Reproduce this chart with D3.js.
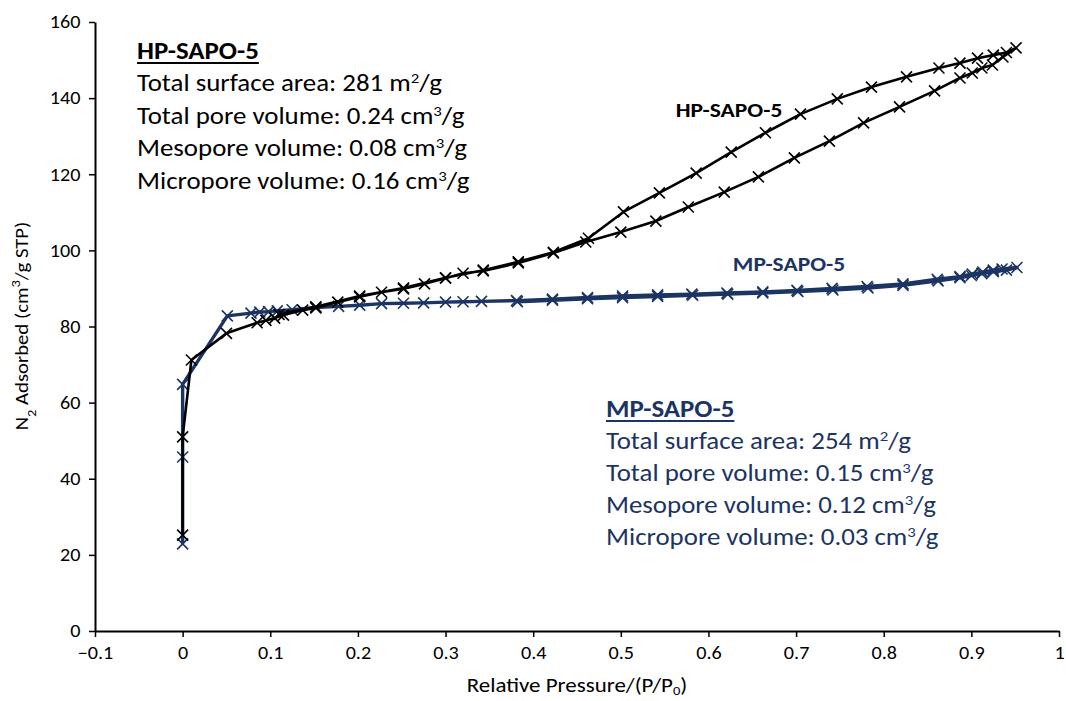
<!DOCTYPE html>
<html>
<head>
<meta charset="utf-8">
<script src="https://cdn.jsdelivr.net/npm/d3@7"></script>
<style>
  html, body { margin: 0; padding: 0; background: #fff; }
  svg { display: block; }
  text { font-family: Carlito, Lato, "Open Sans", sans-serif; }
</style>
</head>
<body>
<svg id="chart" width="1066" height="701"></svg>
<script>
// N2 adsorption–desorption isotherms (adsorption branch followed by desorption branch)
const hpPressure = [0, 0, 0.01, 0.05, 0.085, 0.095, 0.105, 0.115, 0.137, 0.152, 0.177, 0.202, 0.227, 0.252, 0.276, 0.30, 0.32, 0.343, 0.383, 0.423, 0.46, 0.50, 0.54, 0.577, 0.618, 0.657, 0.698, 0.738, 0.777, 0.818, 0.858, 0.887, 0.901, 0.912, 0.924, 0.936, 0.951,
  0.94, 0.925, 0.907, 0.887, 0.863, 0.826, 0.786, 0.747, 0.705, 0.665, 0.626, 0.586, 0.544, 0.503, 0.463, 0.423, 0.383, 0.343, 0.30, 0.252, 0.202, 0.152, 0.11];
const hpAdsorbed = [25.2, 51, 71.2, 78.2, 81, 81.6, 82.2, 83, 84.3, 84.9, 86.4, 87.8, 89, 89.9, 91.2, 92.7, 94, 94.6, 96.7, 99.3, 102.2, 104.8, 107.7, 111.4, 115.3, 119.3, 124.3, 128.7, 133.5, 137.7, 141.9, 145.3, 146.6, 147.9, 148.7, 150.8, 153.2,
  152, 151.3, 150.5, 149.2, 147.9, 145.6, 142.9, 139.8, 135.8, 130.9, 125.8, 120.3, 115.1, 110.1, 103.2, 99.5, 97, 94.8, 92.8, 90.1, 88, 85.2, 83.2];

const mpPressure = [0, 0, 0, 0.051, 0.078, 0.088, 0.098, 0.108, 0.125, 0.152, 0.178, 0.202, 0.227, 0.252, 0.275, 0.30, 0.32, 0.341, 0.381, 0.422, 0.462, 0.502, 0.542, 0.581, 0.621, 0.662, 0.701, 0.741, 0.781, 0.822, 0.861, 0.887, 0.901, 0.913, 0.925, 0.935, 0.952,
  0.94, 0.925, 0.912, 0.9, 0.887, 0.862, 0.822, 0.782, 0.742, 0.702, 0.662, 0.622, 0.582, 0.542, 0.502, 0.462, 0.422, 0.382];
const mpAdsorbed = [22.9, 45.7, 64.8, 82.8, 83.5, 83.8, 83.9, 84.1, 84.4, 85, 85.3, 85.6, 86, 86.1, 86.2, 86.4, 86.5, 86.6, 86.8, 87.2, 87.6, 88, 88.3, 88.5, 88.8, 89.1, 89.5, 90, 90.5, 91.2, 92.4, 93.1, 93.8, 94.3, 94.8, 95.1, 95.5,
  94.8, 94.4, 93.9, 93.4, 92.8, 92, 90.8, 90.1, 89.6, 89.2, 88.8, 88.5, 88.2, 87.9, 87.6, 87.3, 86.9, 86.5];

const xTicks = [-0.1, 0, 0.1, 0.2, 0.3, 0.4, 0.5, 0.6, 0.7, 0.8, 0.9, 1];
const yTicks = [0, 20, 40, 60, 80, 100, 120, 140, 160];

const hpInfo = ["Total surface area: 281 m|2|/g", "Total pore volume: 0.24 cm|3|/g", "Mesopore volume: 0.08 cm|3|/g", "Micropore volume: 0.16 cm|3|/g"];
const mpInfo = ["Total surface area: 254 m|2|/g", "Total pore volume: 0.15 cm|3|/g", "Mesopore volume: 0.12 cm|3|/g", "Micropore volume: 0.03 cm|3|/g"];

const HP_COLOR = "#000000";
const MP_COLOR = "#1b3463";
const SX = 1.12; // horizontal widening of glyphs

const svg = d3.select("#chart");
const x = d3.scaleLinear().domain([-0.1, 1]).range([95, 1059]);
const y = d3.scaleLinear().domain([0, 160]).range([631, 22]);

// axes
const xAxis = svg.append("g").attr("transform", `translate(0,${y(0)})`)
  .call(d3.axisBottom(x).tickValues(xTicks).tickSize(6).tickSizeOuter(0)
    .tickFormat(d => d === 0 ? "0" : d === 1 ? "1" : d3.format(".1f")(d)));
const yAxis = svg.append("g").attr("transform", `translate(${x(-0.1)},0)`)
  .call(d3.axisLeft(y).tickValues(yTicks).tickSize(6).tickSizeOuter(0));
[xAxis, yAxis].forEach(g => {
  g.select(".domain").attr("stroke", "#000").attr("stroke-width", 2);
  g.selectAll(".tick line").attr("stroke", "#000").attr("stroke-width", 1.5);
  g.selectAll(".tick text").attr("fill", "#000").style("font-size", "18px");
});
xAxis.selectAll(".tick text").attr("y", 22).attr("dy", "0.32em")
  .attr("transform", `scale(${SX},1)`);
yAxis.selectAll(".tick text").attr("x", -13)
  .attr("transform", `scale(${SX},1)`);

// axis titles
const xTitle = svg.append("text").attr("text-anchor", "middle")
  .attr("transform", `translate(577,692) scale(${SX},1)`)
  .style("font-size", "20.5px");
xTitle.append("tspan").text("Relative Pressure/(P/P");
xTitle.append("tspan").attr("baseline-shift", "-3px").style("font-size", "13px").text("0");
xTitle.append("tspan").text(")");

const yTitle = svg.append("text").attr("text-anchor", "middle")
  .attr("transform", `translate(28,326) rotate(-90) scale(${SX},1)`)
  .style("font-size", "18.5px");
yTitle.append("tspan").text("N");
yTitle.append("tspan").attr("baseline-shift", "sub").style("font-size", "13px").text("2");
yTitle.append("tspan").text(" Adsorbed (cm");
yTitle.append("tspan").attr("baseline-shift", "super").style("font-size", "13px").text("3");
yTitle.append("tspan").text("/g STP)");

// isotherm series
function drawSeries(px, py, color, width) {
  const pts = px.map((p, i) => [x(p), y(py[i])]);
  svg.append("path").datum(pts)
    .attr("d", d3.line())
    .attr("fill", "none").attr("stroke", color).attr("stroke-width", width)
    .attr("stroke-linejoin", "round");
  const s = 5.5;
  svg.append("g").selectAll("path").data(pts).join("path")
    .attr("d", d => `M${d[0]-s},${d[1]-s}L${d[0]+s},${d[1]+s}M${d[0]-s},${d[1]+s}L${d[0]+s},${d[1]-s}`)
    .attr("stroke", color).attr("stroke-width", 1.6).attr("fill", "none");
}
drawSeries(mpPressure, mpAdsorbed, MP_COLOR, 3.4);
drawSeries(hpPressure, hpAdsorbed, HP_COLOR, 2.6);

// series labels
svg.append("text").attr("text-anchor", "middle")
  .attr("transform", `translate(729,117) scale(${SX},1)`)
  .style("font-size", "21px").style("font-weight", "bold").attr("fill", HP_COLOR).text("HP-SAPO-5");
svg.append("text").attr("text-anchor", "middle")
  .attr("transform", `translate(789,271) scale(${SX},1)`)
  .style("font-size", "21px").style("font-weight", "bold").attr("fill", MP_COLOR).text("MP-SAPO-5");

// property blocks
function infoBlock(x0, y0, title, lines, color, gap) {
  const g = svg.append("g").attr("fill", color)
    .attr("transform", `translate(${x0},${y0}) scale(${SX},1)`);
  const t = g.append("text").attr("x", 0).attr("y", 0)
    .style("font-size", "24px").style("font-weight", "bold").text(title);
  const w = t.node().getComputedTextLength();
  g.append("line").attr("x1", 0).attr("x2", w).attr("y1", 4).attr("y2", 4)
    .attr("stroke", color).attr("stroke-width", 2);
  lines.forEach((ln, i) => {
    const parts = ln.split("|");
    const tx = g.append("text").attr("x", 0).attr("y", gap * (i + 1)).style("font-size", "24px");
    tx.append("tspan").text(parts[0]);
    tx.append("tspan").attr("baseline-shift", "super").style("font-size", "15px").text(parts[1]);
    tx.append("tspan").text(parts[2]);
  });
}
infoBlock(137, 59, "HP-SAPO-5", hpInfo, HP_COLOR, 32.5);
infoBlock(606, 417, "MP-SAPO-5", mpInfo, MP_COLOR, 32);
</script>
</body>
</html>
